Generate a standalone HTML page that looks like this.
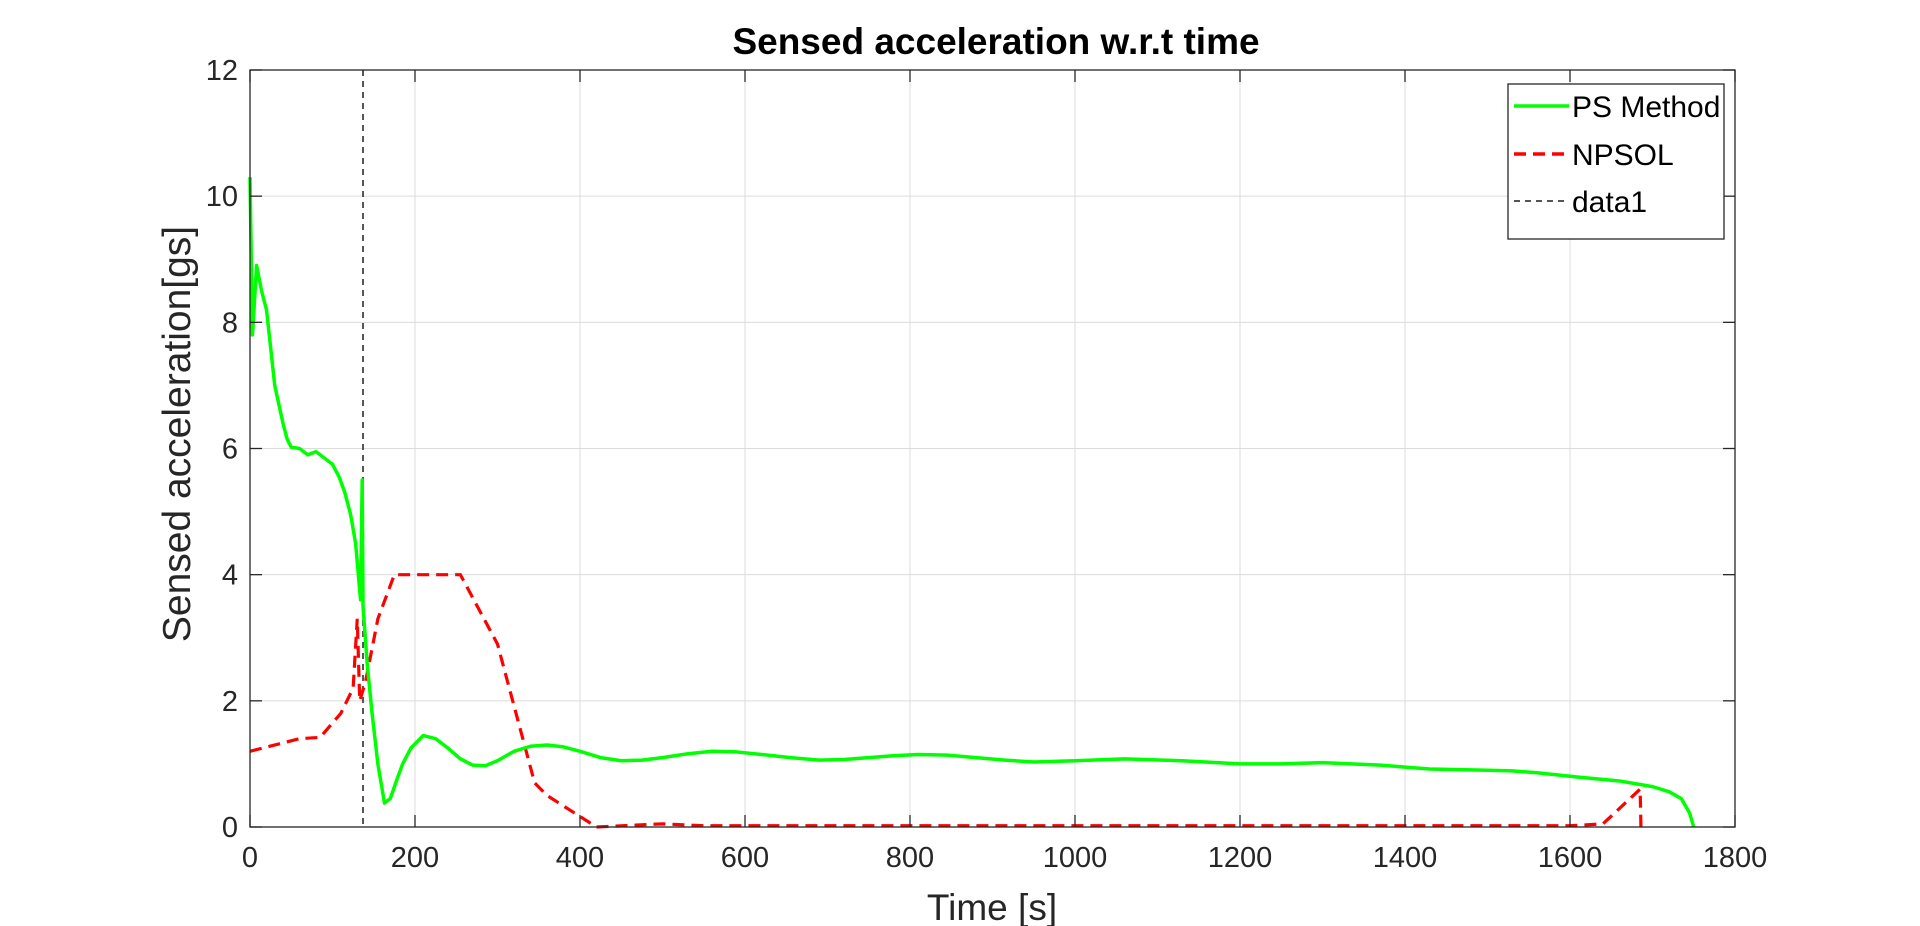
<!DOCTYPE html>
<html><head><meta charset="utf-8"><style>
html,body{margin:0;padding:0;background:#fff;}
svg{display:block;font-family:"Liberation Sans",sans-serif;}
</style></head><body>
<svg id="chart" width="1920" height="926" viewBox="0 0 1920 926" xmlns="http://www.w3.org/2000/svg">
<rect width="1920" height="926" fill="#fff"/>
<g id="grid"></g>
<g id="series"></g>
<g id="axes"></g>
<text x="996" y="54" font-size="37" font-weight="bold" text-anchor="middle" fill="#000">Sensed acceleration w.r.t time</text>
<text x="992" y="920" font-size="37" text-anchor="middle" fill="#262626">Time [s]</text>
<text transform="translate(190,434) rotate(-90)" font-size="39" text-anchor="middle" fill="#262626">Sensed acceleration[gs]</text>
<g>
<rect x="1508" y="84" width="216" height="155" fill="#fff" stroke="#262626" stroke-width="1.3"/>
<line x1="1514" y1="106" x2="1569" y2="106" stroke="#00ff00" stroke-width="3.5"/>
<text x="1572" y="117" font-size="30" fill="#000">PS Method</text>
<line x1="1514" y1="154" x2="1569" y2="154" stroke="#ff0000" stroke-width="3.5" stroke-dasharray="12,7"/>
<text x="1572" y="165" font-size="30" fill="#000">NPSOL</text>
<line x1="1514" y1="201" x2="1569" y2="201" stroke="#555" stroke-width="2" stroke-dasharray="6,5"/>
<text x="1572" y="212" font-size="30" fill="#000">data1</text>
</g>
</svg>
<script>
const xTicks=[0,200,400,600,800,1000,1200,1400,1600,1800];
const yTicks=[0,2,4,6,8,10,12];
const psTime=[0,3,8,14,20,25,30,35,40,45,50,60,70,80,90,100,108,115,122,128,134,136,137,142,148,155,163,170,178,185,195,210,225,240,255,270,285,300,320,340,360,380,400,425,450,475,500,530,560,590,620,655,690,720,750,780,810,845,880,915,950,1000,1060,1130,1200,1250,1300,1370,1430,1500,1530,1560,1610,1660,1700,1720,1735,1745,1750];
const psAccel=[10.3,7.8,8.9,8.5,8.2,7.6,7.0,6.7,6.4,6.15,6.02,6.0,5.9,5.95,5.85,5.75,5.55,5.3,4.95,4.5,3.6,5.5,3.5,2.6,1.8,1.0,0.38,0.45,0.75,1.0,1.25,1.45,1.4,1.25,1.08,0.98,0.97,1.05,1.2,1.28,1.3,1.27,1.2,1.1,1.05,1.06,1.1,1.16,1.2,1.19,1.15,1.1,1.06,1.07,1.1,1.13,1.15,1.14,1.1,1.06,1.03,1.05,1.08,1.05,1.0,1.0,1.02,0.98,0.92,0.9,0.89,0.86,0.79,0.73,0.64,0.56,0.45,0.22,0];
const npTime=[0,60,85,110,125,130,133,140,155,175,255,300,345,360,420,500,550,1600,1640,1685,1686];
const npAccel=[1.2,1.4,1.42,1.8,2.2,3.3,2.0,2.3,3.3,4.0,4.0,2.9,0.7,0.5,0,0.05,0.02,0.02,0.05,0.6,0];
const markerX=[137];
const L=250,R=1735,T=70,B=827;
const sx=v=>L+(v-0)/(1800-0)*(R-L);
const sy=v=>B-(v-0)/(12-0)*(B-T);
const NS="http://www.w3.org/2000/svg";
function mk(tag,attrs,parent){const e=document.createElementNS(NS,tag);for(const k in attrs)e.setAttribute(k,attrs[k]);parent.appendChild(e);return e;}
const grid=document.getElementById('grid'),axes=document.getElementById('axes'),series=document.getElementById('series');
xTicks.forEach(t=>{
  const g=mk('line',{x1:sx(t),x2:sx(t),y1:T,y2:B,stroke:'#dcdcdc','stroke-width':1},grid);
  
  
  mk('line',{x1:sx(t),x2:sx(t),y1:B,y2:B-12,stroke:'#262626','stroke-width':1.3},axes);
  mk('line',{x1:sx(t),x2:sx(t),y1:T,y2:T+12,stroke:'#262626','stroke-width':1.3},axes);
  const lb=mk('text',{x:sx(t),y:B+40,'font-size':29,'text-anchor':'middle',fill:'#262626'},axes);
  lb.textContent=t;
  
  
});
yTicks.forEach(t=>{
  const g=mk('line',{x1:L,x2:R,y1:sy(t),y2:sy(t),stroke:'#dcdcdc','stroke-width':1},grid);
  
  
  mk('line',{x1:L,x2:L+12,y1:sy(t),y2:sy(t),stroke:'#262626','stroke-width':1.3},axes);
  mk('line',{x1:R,x2:R-12,y1:sy(t),y2:sy(t),stroke:'#262626','stroke-width':1.3},axes);
  const lb=mk('text',{x:L-12,y:sy(t)+10,'font-size':29,'text-anchor':'end',fill:'#262626'},axes);
  lb.textContent=t;
  
  
});
const box=mk('rect',{x:L,y:T,width:R-L,height:B-T,fill:'none',stroke:'#262626','stroke-width':1.3},axes);


markerX.forEach(m=>{
  const v=mk('line',{x1:sx(m),x2:sx(m),y1:sy(12),y2:sy(0),stroke:'#555','stroke-width':2,'stroke-dasharray':'6,5'},series);
  
  
});
const np=mk('polyline',{points:npTime.map((t,i)=>sx(t)+','+sy(npAccel[i])).join(' '),fill:'none',stroke:'#ff0000','stroke-width':3.2,'stroke-dasharray':'12,7'},series);


const ps=mk('polyline',{points:psTime.map((t,i)=>sx(t)+','+sy(psAccel[i])).join(' '),fill:'none',stroke:'#00ff00','stroke-width':3.5,'stroke-linejoin':'round'},series);


</script>
</body></html>
